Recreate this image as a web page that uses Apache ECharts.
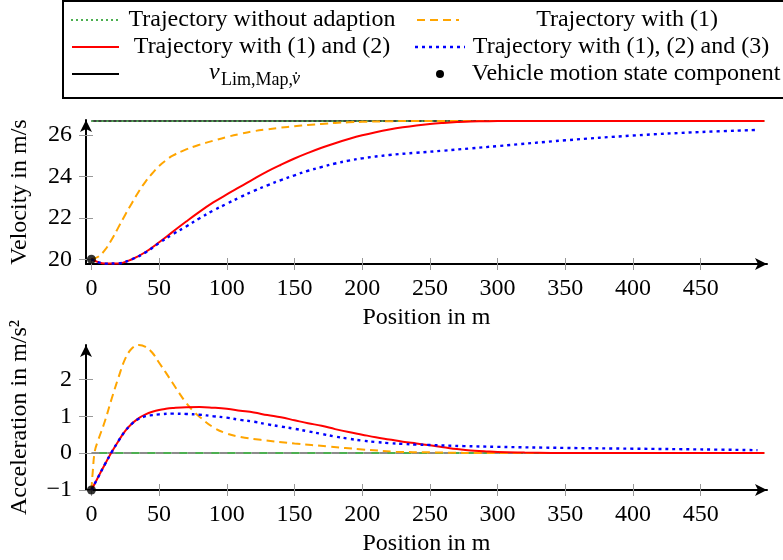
<!DOCTYPE html>
<html><head><meta charset="utf-8">
<script src="https://cdn.jsdelivr.net/npm/echarts@6/dist/echarts.min.js"></script>
<style>html,body{margin:0;padding:0;background:#fff}#c{width:783px;height:560px}</style>
</head><body><div id="c"></div>
<script>
// ---------- data ----------
const xTicks = [0, 50, 100, 150, 200, 250, 300, 350, 400, 450];
const velTicks = [20, 22, 24, 26];
const accTicks = [-1, 0, 1, 2];
const vLim = 26.67;
const posEnd = 497;

// Velocity (m/s)
const velPosOrange = [0, 5, 10, 15, 20, 25, 30, 35, 40, 45, 50, 55, 60, 70, 80, 90, 100, 110, 120, 130, 140, 150, 160, 170, 180, 190, 200, 220, 240, 270, 497];
const velOrange    = [20.0, 20.12, 20.45, 20.95, 21.55, 22.15, 22.72, 23.27, 23.75, 24.15, 24.5, 24.77, 25.0, 25.3, 25.53, 25.72, 25.9, 26.05, 26.18, 26.27, 26.35, 26.42, 26.48, 26.53, 26.58, 26.61, 26.63, 26.66, 26.67, 26.67, 26.67];
const velPosRed = [0, 10, 20, 30, 40, 50, 60, 70, 80, 90, 100, 110, 120, 130, 140, 150, 160, 170, 180, 190, 200, 210, 220, 230, 240, 250, 260, 270, 280, 290, 300, 400, 497];
const velRed    = [20.0, 19.79, 19.8, 20.0, 20.35, 20.82, 21.32, 21.82, 22.3, 22.74, 23.13, 23.5, 23.88, 24.24, 24.56, 24.86, 25.13, 25.38, 25.6, 25.8, 25.98, 26.13, 26.26, 26.37, 26.46, 26.53, 26.58, 26.62, 26.65, 26.66, 26.67, 26.67, 26.67];
const velPosBlue = [0, 10, 20, 30, 40, 50, 60, 70, 80, 90, 100, 110, 120, 130, 140, 150, 160, 170, 180, 190, 200, 220, 240, 260, 280, 300, 350, 400, 450, 492];
const velBlue    = [20.0, 19.79, 19.8, 20.0, 20.33, 20.78, 21.2, 21.58, 21.98, 22.35, 22.68, 23.0, 23.3, 23.57, 23.82, 24.05, 24.27, 24.45, 24.62, 24.76, 24.87, 25.03, 25.14, 25.24, 25.35, 25.46, 25.74, 25.97, 26.14, 26.24];
const velPosFlat = [0, posEnd];
const velFlat    = [vLim, vLim];

// Acceleration (m/s^2)
const accPosOrange = [0, 1, 2.5, 5, 10, 15, 20, 25, 30, 35, 40, 45, 50, 55, 60, 65, 70, 75, 80, 90, 100, 110, 125, 150, 175, 200, 225, 250, 300, 497];
const accOrange    = [-1.0, -0.5, 0.05, 0.35, 0.87, 1.48, 2.05, 2.56, 2.84, 2.93, 2.88, 2.72, 2.45, 2.18, 1.9, 1.62, 1.36, 1.15, 0.98, 0.7, 0.53, 0.44, 0.36, 0.26, 0.18, 0.1, 0.04, 0.02, 0.0, 0.0];
const accPosRed = [0, 5, 10, 15, 20, 25, 30, 35, 40, 45, 50, 55, 60, 70, 80, 90, 100, 110, 120, 130, 140, 150, 160, 170, 180, 190, 200, 210, 220, 230, 240, 250, 260, 270, 280, 290, 300, 320, 340, 360, 497];
const accRed    = [-1.0, -0.65, -0.3, 0.03, 0.33, 0.6, 0.8, 0.95, 1.05, 1.12, 1.17, 1.2, 1.22, 1.245, 1.25, 1.23, 1.2, 1.15, 1.1, 1.03, 0.97, 0.89, 0.81, 0.74, 0.65, 0.57, 0.5, 0.43, 0.37, 0.31, 0.26, 0.21, 0.16, 0.11, 0.07, 0.05, 0.03, 0.015, 0.005, 0.0, 0.0];
const accPosBlue = [0, 5, 10, 15, 20, 25, 30, 35, 40, 45, 50, 60, 70, 80, 90, 100, 110, 120, 130, 140, 150, 160, 170, 180, 190, 200, 210, 220, 230, 240, 250, 275, 300, 350, 400, 450, 492];
const accBlue    = [-1.0, -0.65, -0.3, 0.03, 0.33, 0.6, 0.8, 0.93, 1.0, 1.03, 1.05, 1.07, 1.06, 1.04, 1.0, 0.96, 0.9, 0.85, 0.78, 0.72, 0.66, 0.59, 0.52, 0.45, 0.39, 0.34, 0.3, 0.27, 0.25, 0.23, 0.22, 0.19, 0.17, 0.14, 0.12, 0.1, 0.08];
const accPosFlat = [0, posEnd];
const accFlat    = [0, 0];

const startPos = [0];
const startVel = [20];
const startAcc = [-1];

// ---------- chart ----------
const pair = (xs, ys) => xs.map((x, i) => [x, ys[i]]);
const FONT = 'Liberation Serif';
const FS = 24;
const C = { green: '#4caf50', orange: '#ffa500', red: '#ff0000', blue: '#0000ff', gray: '#8c8c8c' };

function xAxes(grid) {
  const base = { type: 'value', gridIndex: grid, min: -4, max: 499, splitLine: { show: false } };
  return [
    Object.assign({}, base, {
      position: 'bottom',
      name: 'Position in m', nameLocation: 'middle', nameGap: 42,
      nameTextStyle: { fontFamily: FONT, fontSize: FS, color: '#000' },
      axisLine: { show: true, onZero: false, lineStyle: { color: '#000', width: 2 }, symbol: ['none', 'arrow'], symbolSize: [9, 12] },
      axisTick: { show: true, length: 6, lineStyle: { color: '#999', width: 1 }, customValues: xTicks },
      axisLabel: { show: true, margin: 13, fontFamily: FONT, fontSize: FS, color: '#000', customValues: xTicks }
    }),
    Object.assign({}, base, {
      position: 'bottom',
      axisLine: { show: false, onZero: false },
      axisTick: { show: true, inside: true, length: 6, lineStyle: { color: '#999', width: 1 }, customValues: xTicks },
      axisLabel: { show: false }
    })
  ];
}
function yAxes(grid, min, max, ticks, name, gap) {
  const base = { type: 'value', gridIndex: grid, min: min, max: max, splitLine: { show: false } };
  return [
    Object.assign({}, base, {
      position: 'left',
      name: name, nameLocation: 'middle', nameGap: gap, nameRotate: 90,
      nameTextStyle: { fontFamily: FONT, fontSize: FS, color: '#000' },
      axisLine: { show: true, onZero: false, lineStyle: { color: '#000', width: 2 }, symbol: ['none', 'arrow'], symbolSize: [9, 12] },
      axisTick: { show: true, length: 7, lineStyle: { color: '#999', width: 1 }, customValues: ticks },
      axisLabel: { show: true, margin: 14, fontFamily: FONT, fontSize: FS, color: '#000', customValues: ticks,
        formatter: v => (v < 0 ? '\u2212' + Math.abs(v) : String(v)) }
    }),
    Object.assign({}, base, {
      position: 'left',
      axisLine: { show: false, onZero: false },
      axisTick: { show: true, inside: true, length: 7, lineStyle: { color: '#999', width: 1 }, customValues: ticks },
      axisLabel: { show: false }
    })
  ];
}

function line(name, data, xi, yi, color, width, dash, z, extra) {
  return Object.assign({
    type: 'line', name: name, xAxisIndex: xi, yAxisIndex: yi, data: data,
    showSymbol: false, symbol: 'none', smooth: 0.4, z: z, animation: false,
    lineStyle: { color: color, width: width, type: dash || 'solid' }
  }, extra || {});
}

const series = [
  // top chart
  line('vLim', pair(velPosFlat, velFlat), 0, 0, '#000', 1.5, 'solid', 2, { smooth: false }),
  line('Trajectory without adaption', pair(velPosFlat, velFlat), 0, 0, C.green, 1.8, [2, 3], 3, { smooth: false }),
  line('Trajectory with (1)', pair(velPosOrange, velOrange), 0, 0, C.orange, 2, [8, 5], 4),
  line('Trajectory with (1) and (2)', pair(velPosRed, velRed), 0, 0, C.red, 2, 'solid', 5),
  line('Trajectory with (1), (2) and (3)', pair(velPosBlue, velBlue), 0, 0, C.blue, 2.4, [3, 4], 6),
  { type: 'scatter', xAxisIndex: 0, yAxisIndex: 0, data: pair(startPos, startVel), symbolSize: 9, itemStyle: { color: '#000' }, z: 10, animation: false },
  // bottom chart
  line('vLim dot', pair(accPosFlat, accFlat), 2, 2, C.gray, 2, [10, 6], 2, { smooth: false }),
  line('Trajectory without adaption acc', pair(accPosFlat, accFlat), 2, 2, C.green, 2, [8, 8], 3, { smooth: false, lineStyle: { color: C.green, width: 2, type: [8, 8], dashOffset: 8 } }),
  line('Trajectory with (1) acc', pair(accPosOrange, accOrange), 2, 2, C.orange, 2, [8, 5], 4),
  line('Trajectory with (1) and (2) acc', pair(accPosRed, accRed), 2, 2, C.red, 2, 'solid', 5),
  line('Trajectory with (1), (2) and (3) acc', pair(accPosBlue, accBlue), 2, 2, C.blue, 2.4, [3, 4], 6),
  { type: 'scatter', xAxisIndex: 2, yAxisIndex: 2, data: pair(startPos, startAcc), symbolSize: 9, itemStyle: { color: '#000' }, z: 10, animation: false }
];

// legend drawn as graphic
const LF = { fontFamily: FONT, fontSize: FS, fill: '#000' };
function ltext(x, y, t, o) { return { type: 'text', x: x, y: y, style: Object.assign({ text: t, align: 'center', verticalAlign: 'middle' }, LF, o || {}) }; }
function lline(x1, x2, y, color, w, dash) { return { type: 'line', shape: { x1: x1, y1: y, x2: x2, y2: y }, style: { stroke: color, lineWidth: w, lineDash: dash || null } }; }
const graphic = [
  { type: 'rect', shape: { x: 63, y: 1, width: 740, height: 97 }, style: { fill: 'none', stroke: '#000', lineWidth: 2 } },
  lline(71, 119, 20, C.green, 1.8, [2, 3]),
  ltext(262, 20, 'Trajectory without adaption'),
  lline(417, 459, 20, C.orange, 2, [8, 5]),
  ltext(627, 20, 'Trajectory with (1)'),
  lline(72, 119, 47, C.red, 2),
  ltext(262, 47, 'Trajectory with (1) and (2)'),
  lline(415, 465, 47, C.blue, 2.4, [3, 4]),
  ltext(621, 47, 'Trajectory with (1), (2) and (3)'),
  lline(72, 119, 74, '#000', 2),
  { type: 'text', x: 209, y: 73, style: { text: 'v', fontFamily: FONT, fontStyle: 'italic', fontSize: FS, fill: '#000', align: 'left', verticalAlign: 'middle' } },
  { type: 'text', x: 221, y: 80, style: { text: 'Lim,Map,', fontFamily: FONT, fontSize: 18, fill: '#000', align: 'left', verticalAlign: 'middle' } },
  { type: 'text', x: 292, y: 79, style: { text: 'v\u0307', fontFamily: FONT, fontStyle: 'italic', fontSize: 18, fill: '#000', align: 'left', verticalAlign: 'middle' } },
  { type: 'circle', shape: { cx: 440, cy: 74, r: 4 }, style: { fill: '#000' } },
  ltext(626, 74, 'Vehicle motion state component')
];

const chart = echarts.init(document.getElementById('c'), null, { renderer: 'canvas' });
chart.setOption({
  backgroundColor: '#fff',
  animation: false,
  grid: [
    { left: 85, right: 16, top: 120, height: 144 },
    { left: 85, right: 16, top: 345, height: 145 }
  ],
  xAxis: xAxes(0).concat(xAxes(1)),
  yAxis: yAxes(0, 19.77, 26.72, velTicks, 'Velocity in m/s', 54).concat(yAxes(1, -1, 2.93, accTicks, 'Acceleration in m/s\u00b2', 54)),
  series: series,
  graphic: graphic
});
</script>
</body></html>
